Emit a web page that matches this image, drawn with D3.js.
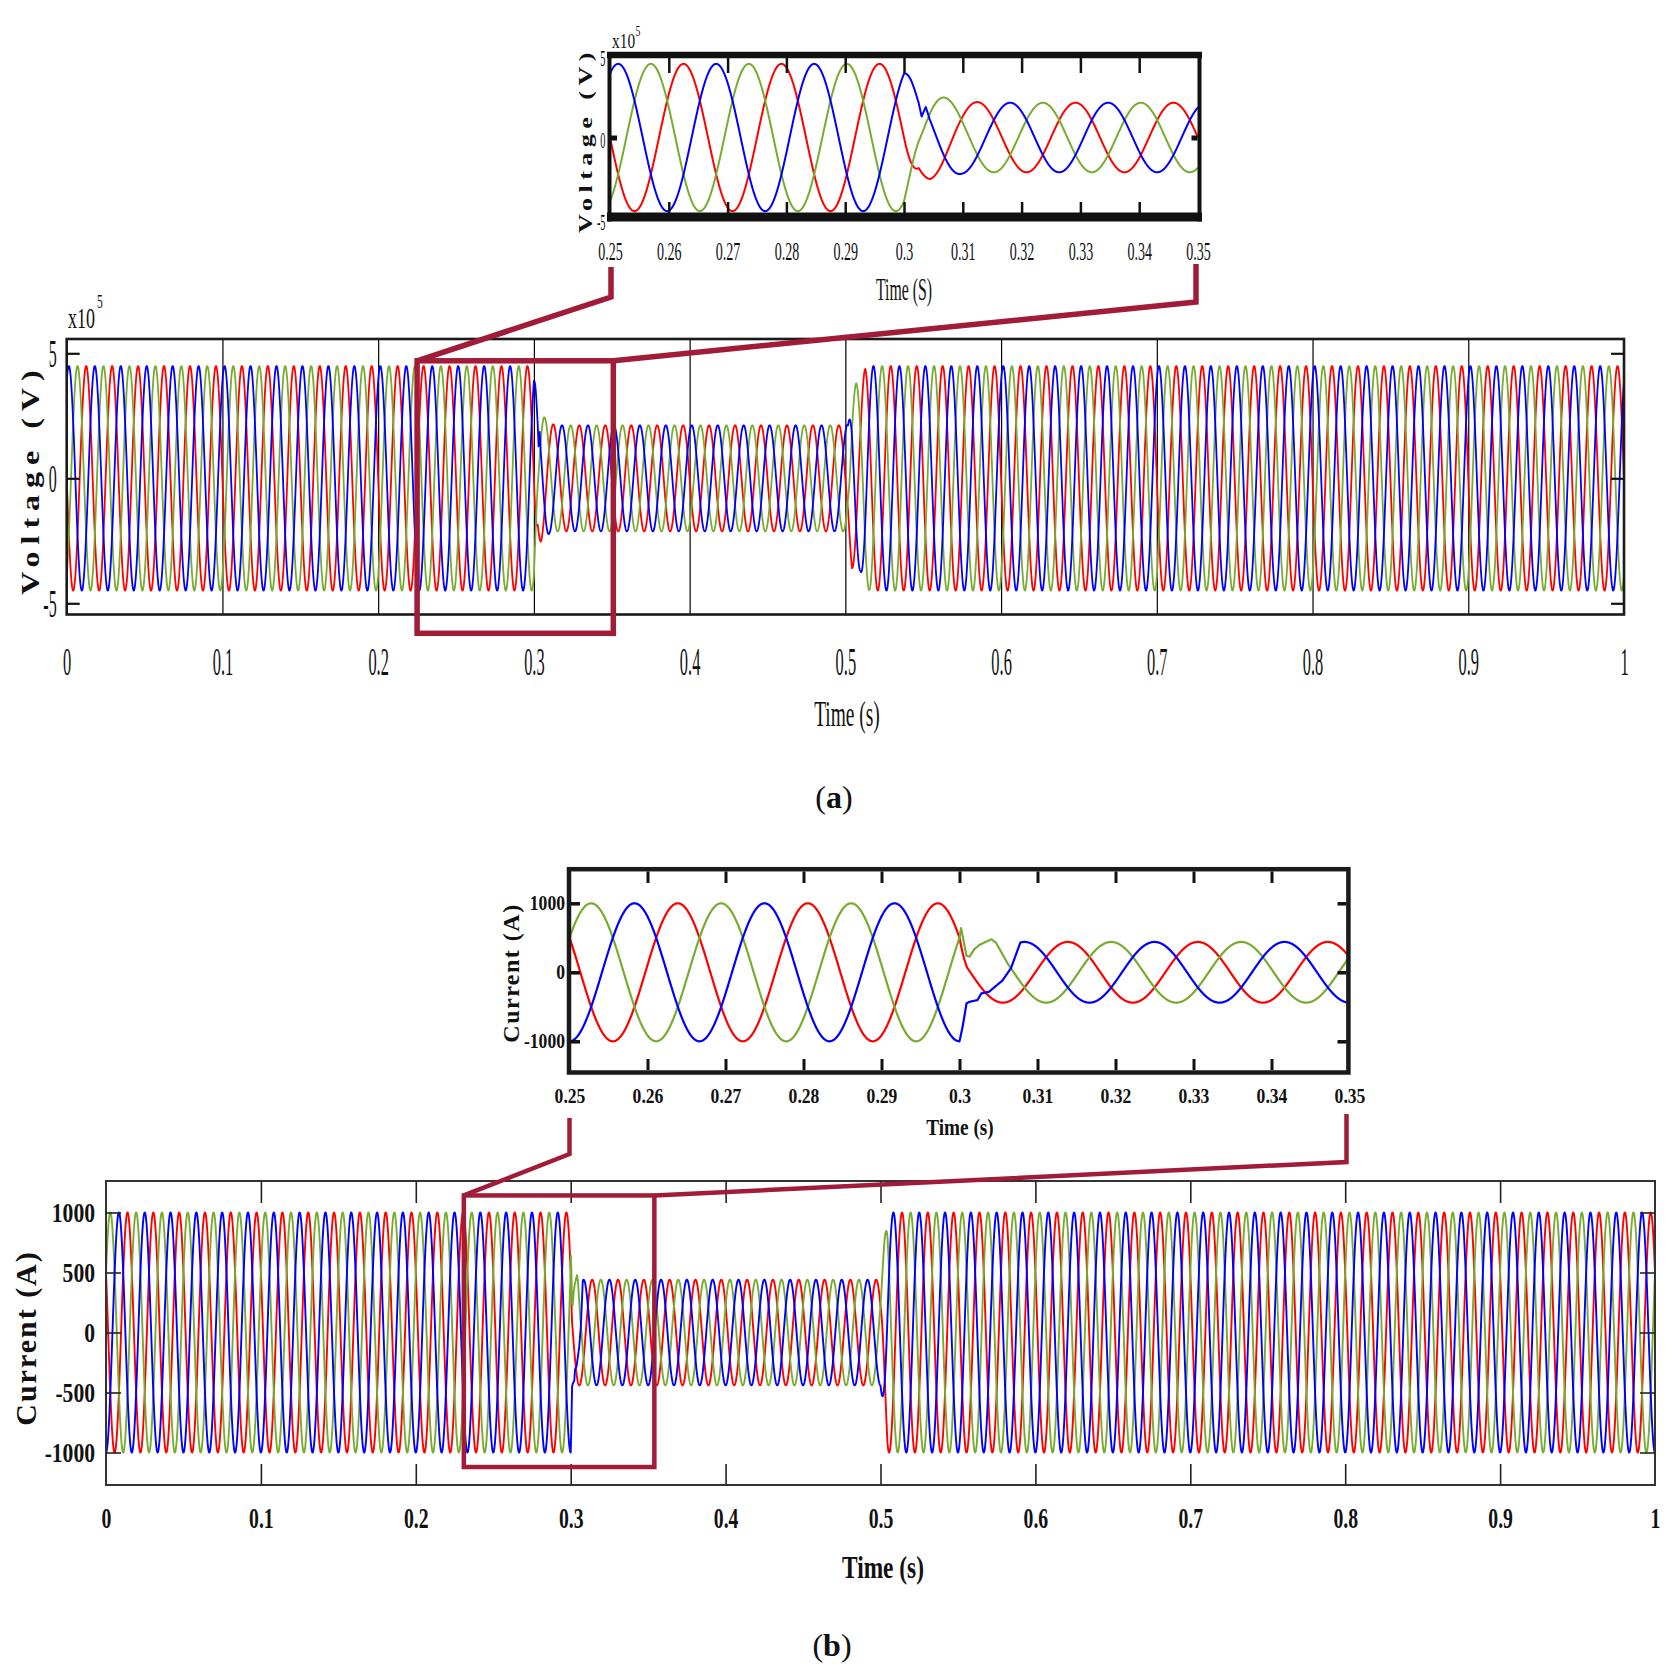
<!DOCTYPE html>
<html>
<head>
<meta charset="utf-8">
<script src="https://cdn.jsdelivr.net/npm/d3@7"></script>
<style>
  body { margin: 0; background: #fff; }
  svg { display: block; }
</style>
</head>
<body>
<script>
// Three-phase voltage (a) and current (b) during a sag between 0.3 s and 0.5 s

// ---- data ----
const timeTicks = [0, 0.1, 0.2, 0.3, 0.4, 0.5, 0.6, 0.7, 0.8, 0.9, 1];
const zoomTicks = [0.25, 0.26, 0.27, 0.28, 0.29, 0.3, 0.31, 0.32, 0.33, 0.34, 0.35];
const voltTicks = [-5, 0, 5];                       // x10^5 V
const currMainTicks = [-1000, -500, 0, 500, 1000];
const currZoomTicks = [-1000, 0, 1000];

const freqHz = 60;
// phase angle of each trace (red, green, blue), degrees
const voltPhaseDeg = [180, -60, 60];
const currPhaseDeg = [150, 30, -90];

// peak amplitude envelope
const voltEnvT = [0, 0.3, 0.3012, 0.3025, 0.3045, 0.306, 0.31, 0.315, 0.5, 0.5018, 0.5043, 0.507, 0.5097, 0.5128, 0.516, 1];
const voltEnvA = [4.49, 4.49, 3.5, 2.3, 2.55, 2.5, 2.2, 2.12, 2.12, 2.15, 3.6, 3.8, 3.7, 4.4, 4.49, 4.49];
const currEnvT = [0, 0.3, 0.3005, 0.301, 0.5, 0.5045, 1];
const currEnvA = [1000, 1000, 720, 440, 440, 1000, 1000];

// fault transients
const voltBlueTrT = [0.3025, 0.303, 0.3037, 0.3043];
const voltBlueTrV = [2.1, 1.28, 1.86, 1.2];
const currGreenTrT = [0.3, 0.3002, 0.3009, 0.3013, 0.3019, 0.3026, 0.3032, 0.3041, 0.3047, 0.3062];
const currGreenTrV = [500, 640, 240, 228, 335, 400, 432, 478, 425, 122];
const currBlueTrT = [0.3, 0.3004, 0.3009, 0.3013, 0.3023, 0.3028, 0.3038, 0.3043, 0.3055, 0.3066, 0.3078];
const currBlueTrV = [-1000, -790, -450, -427, -403, -306, -282, -233, -120, 60, 431];

// zoom boxes (time span, value span)
const voltBoxT = [0.225, 0.351];
const voltBoxV = [-6.2, 4.7];
const currBoxT = [0.231, 0.354];
const currBoxV = [-1121, 1142];

// ---- style ----
const W = 1674, H = 1676;
const SERIF = "'Liberation Serif', 'Times New Roman', serif";
const seriesColors = ['#ff0000', '#77ac30', '#0000ff'];
const boxColor = '#a01c38';
const fmt = d => String(d);

const svg = d3.select('body').append('svg')
  .attr('width', W).attr('height', H)
  .attr('viewBox', `0 0 ${W} ${H}`);

function buildSeries(envT, envA, phases, transients, t0, t1, dt) {
  const env = d3.scaleLinear().domain(envT).range(envA).clamp(true);
  return phases.map((ph, i) => {
    const tr = transients[i];
    const trS = tr ? d3.scaleLinear().domain(tr[0]).range(tr[1]) : null;
    const n = Math.round((t1 - t0) / dt);
    const pts = [];
    for (let k = 0; k <= n; k++) {
      const t = t0 + k * dt;
      let v;
      if (trS && t >= tr[0][0] && t <= tr[0][tr[0].length - 1]) v = trS(t);
      else v = env(t) * Math.sin(2 * Math.PI * freqHz * t + ph * Math.PI / 180);
      pts.push([t, v]);
    }
    return pts;
  });
}

const voltTr = [null, null, [voltBlueTrT, voltBlueTrV]];
const currTr = [null, [currGreenTrT, currGreenTrV], [currBlueTrT, currBlueTrV]];
const voltMain = buildSeries(voltEnvT, voltEnvA, voltPhaseDeg, voltTr, 0, 1, 0.0001);
const voltZoom = buildSeries(voltEnvT, voltEnvA, voltPhaseDeg, voltTr, 0.25, 0.35, 0.00002);
const currMain = buildSeries(currEnvT, currEnvA, currPhaseDeg, currTr, 0, 1, 0.0001);
const currZoom = buildSeries(currEnvT, currEnvA, currPhaseDeg, currTr, 0.25, 0.35, 0.00002);

let clipN = 0;
function plotWaves(g, x, y, series, width, clip) {
  const id = 'clip' + (clipN++);
  svg.append('clipPath').attr('id', id).append('rect')
    .attr('x', clip[0]).attr('y', clip[1]).attr('width', clip[2] - clip[0]).attr('height', clip[3] - clip[1]);
  const line = d3.line().x(d => x(d[0])).y(d => y(d[1]));
  g.append('g').attr('clip-path', `url(#${id})`)
    .selectAll('path').data(series).join('path')
    .attr('d', line).attr('fill', 'none')
    .attr('stroke', (d, i) => seriesColors[i])
    .attr('stroke-width', width).attr('stroke-linejoin', 'round');
}

function txt(g, x, y, s, o) {
  let tf = `translate(${x},${y}) scale(${o.sx || 1},1)`;
  if (o.rot) tf += ` rotate(${o.rot})`;
  return g.append('text').attr('transform', tf)
    .attr('text-anchor', o.anchor || 'middle')
    .attr('font-family', SERIF).attr('font-size', o.size)
    .attr('font-weight', o.bold ? 'bold' : 'normal')
    .attr('letter-spacing', o.ls || 0)
    .attr('dominant-baseline', o.rot ? 'central' : null)
    .attr('fill', '#111').text(s);
}
function caption(g, x, y, letter) {
  const t = txt(g, x, y, '', { size: 32 });
  t.append('tspan').text('(');
  t.append('tspan').attr('font-weight', 'bold').text(letter);
  t.append('tspan').text(')');
}

function tickAxis(g, axis, tx, ty, stroke, width) {
  const a = g.append('g').attr('transform', `translate(${tx},${ty})`).call(axis);
  a.select('.domain').remove();
  a.selectAll('.tick line').attr('stroke', stroke).attr('stroke-width', width);
  return a;
}
function styleX(a, o) {
  a.selectAll('.tick text').attr('y', null).attr('dy', null)
    .attr('transform', `translate(0,${o.off}) scale(${o.sx},1)`)
    .attr('font-size', o.size).attr('font-family', SERIF)
    .attr('font-weight', o.bold ? 'bold' : 'normal').attr('fill', '#111');
}
function styleY(a, o) {
  a.selectAll('.tick text').attr('x', null).attr('dy', o.dy || '0.32em')
    .attr('transform', `translate(${-o.pad},0) scale(${o.sx},1)`)
    .attr('font-size', o.size).attr('font-family', SERIF)
    .attr('font-weight', o.bold ? 'bold' : 'normal').attr('fill', '#111');
}

// ================= (a) voltage =================
const gA = svg.append('g');
const xA = d3.scaleLinear([0, 1], [66.7, 1624]);
const yA = d3.scaleLinear([-5, 5], [603.3, 353.3]);
const aTop = 339, aBot = 614.5;

// grid lines at every 0.1 s
tickAxis(gA, d3.axisBottom(xA).tickValues(timeTicks.slice(1, -1)).tickSize(-(aBot - aTop)).tickFormat(''), 0, aBot, '#000', 1.2);
plotWaves(gA, xA, yA, voltMain, 1.8, [xA(0), aTop, xA(1), aBot]);
gA.append('rect').attr('x', xA(0)).attr('y', aTop).attr('width', xA(1) - xA(0)).attr('height', aBot - aTop)
  .attr('fill', 'none').attr('stroke', '#1a1a1a').attr('stroke-width', 2.6);
const aX = tickAxis(gA, d3.axisBottom(xA).tickValues(timeTicks).tickSize(0).tickFormat(fmt), 0, aBot, '#000', 0);
styleX(aX, { off: 60.5, sx: 0.4, size: 41 });
const aYL = tickAxis(gA, d3.axisLeft(yA).tickValues(voltTicks).tickSize(-13).tickFormat(fmt), xA(0), 0, '#111', 2.2);
styleY(aYL, { pad: 10, sx: 0.4, size: 40 });
tickAxis(gA, d3.axisRight(yA).tickValues(voltTicks).tickSize(-13).tickFormat(''), xA(1), 0, '#111', 2.2);
txt(gA, 68, 328, 'x10', { size: 29, sx: 0.62, anchor: 'start' });
txt(gA, 97, 308, '5', { size: 19, sx: 0.6, anchor: 'start' });
txt(gA, 30, 479, 'Voltage (V)', { size: 32, sx: 0.8, rot: -90, bold: true, ls: 7 });
txt(gA, 847, 726, 'Time (s)', { size: 36, sx: 0.54 });
caption(gA, 834, 808, 'a');

// inset (a)
const xIa = d3.scaleLinear([0.25, 0.35], [610, 1198]);
const yIa = d3.scaleLinear([-5, 5], [219.5, 55.5]);
plotWaves(gA, xIa, yIa, voltZoom, 2, [609, 57, 1199, 215]);
gA.append('line').attr('x1', 607).attr('x2', 1202).attr('y1', 55).attr('y2', 55).attr('stroke', '#111').attr('stroke-width', 6.5);
gA.append('line').attr('x1', 607).attr('x2', 1202).attr('y1', 217).attr('y2', 217).attr('stroke', '#111').attr('stroke-width', 9);
gA.append('line').attr('x1', 609.5).attr('x2', 609.5).attr('y1', 52).attr('y2', 221.5).attr('stroke', '#111').attr('stroke-width', 4);
gA.append('line').attr('x1', 1199.5).attr('x2', 1199.5).attr('y1', 52).attr('y2', 221.5).attr('stroke', '#111').attr('stroke-width', 4);
tickAxis(gA, d3.axisTop(xIa).tickValues(zoomTicks.slice(1, -1)).tickSize(-15).tickFormat(''), 0, 58, '#111', 2.5);
tickAxis(gA, d3.axisBottom(xIa).tickValues(zoomTicks.slice(1, -1)).tickSize(-11).tickFormat(''), 0, 213, '#111', 2.5);
tickAxis(gA, d3.axisLeft(yIa).tickValues([0]).tickSize(-6).tickFormat(''), 611, 0, '#111', 5);
tickAxis(gA, d3.axisRight(yIa).tickValues([0]).tickSize(-6).tickFormat(''), 1197.5, 0, '#111', 5);
const iaX = tickAxis(gA, d3.axisBottom(xIa).tickValues(zoomTicks).tickSize(0).tickFormat(fmt), 0, 213, '#000', 0);
styleX(iaX, { off: 47, sx: 0.54, size: 26 });
const iaY = tickAxis(gA, d3.axisLeft(yIa).tickValues(voltTicks).tickSize(0).tickFormat(fmt), 607, 0, '#000', 0);
styleY(iaY, { pad: 1.5, sx: 0.45, size: 23, dy: '0.45em' });
txt(gA, 612, 48, 'x10', { size: 22, sx: 0.7, anchor: 'start' });
txt(gA, 635.5, 36, '5', { size: 14, sx: 0.7, anchor: 'start' });
txt(gA, 586, 140, 'Voltage (V)', { size: 26, sx: 0.75, rot: -90, bold: true, ls: 5.5 });
txt(gA, 904, 300, 'Time (S)', { size: 31, sx: 0.51 });

// zoom box + connectors (a)
gA.append('rect').attr('x', xA(voltBoxT[0])).attr('y', yA(voltBoxV[1]))
  .attr('width', xA(voltBoxT[1]) - xA(voltBoxT[0])).attr('height', yA(voltBoxV[0]) - yA(voltBoxV[1]))
  .attr('fill', 'none').attr('stroke', boxColor).attr('stroke-width', 5.5);
gA.append('polyline').attr('points', [[xA(voltBoxT[0]), yA(voltBoxV[1])], [xIa(0.25) + 1, 297], [xIa(0.25) + 1, 267]].join(' '))
  .attr('fill', 'none').attr('stroke', boxColor).attr('stroke-width', 5.5);
gA.append('polyline').attr('points', [[xA(voltBoxT[1]), yA(voltBoxV[1])], [xIa(0.35) - 2, 302], [xIa(0.35) - 2, 264]].join(' '))
  .attr('fill', 'none').attr('stroke', boxColor).attr('stroke-width', 5.5);

// ================= (b) current =================
const gB = svg.append('g');
const xB = d3.scaleLinear([0, 1], [106, 1655]);
const yB = d3.scaleLinear([-1000, 1000], [1452.5, 1212.5]);
const bTop = 1181, bBot = 1485;

plotWaves(gB, xB, yB, currMain, 1.9, [xB(0), bTop, xB(1), bBot]);
gB.append('rect').attr('x', xB(0)).attr('y', bTop).attr('width', xB(1) - xB(0)).attr('height', bBot - bTop)
  .attr('fill', 'none').attr('stroke', '#333').attr('stroke-width', 2);
tickAxis(gB, d3.axisTop(xB).tickValues(timeTicks.slice(1, -1)).tickSize(-22).tickFormat(''), 0, bTop, '#222', 1.6);
tickAxis(gB, d3.axisBottom(xB).tickValues(timeTicks.slice(1, -1)).tickSize(-21).tickFormat(''), 0, bBot, '#222', 1.6);
const bYL = tickAxis(gB, d3.axisLeft(yB).tickValues(currMainTicks).tickSize(-15).tickFormat(fmt), xB(0), 0, '#222', 1.6);
styleY(bYL, { pad: 11, sx: 0.8, size: 27, bold: true });
tickAxis(gB, d3.axisRight(yB).tickValues(currMainTicks).tickSize(-15).tickFormat(''), xB(1), 0, '#222', 1.6);
const bX = tickAxis(gB, d3.axisBottom(xB).tickValues(timeTicks).tickSize(0).tickFormat(fmt), 0, bBot, '#000', 0);
styleX(bX, { off: 43, sx: 0.68, size: 29, bold: true });
txt(gB, 26, 1338, 'Current (A)', { size: 30, sx: 0.95, rot: -90, bold: true, ls: 2 });
txt(gB, 883, 1578, 'Time (s)', { size: 32, sx: 0.73, bold: true });
caption(gB, 832, 1656, 'b');

// inset (b)
const xIb = d3.scaleLinear([0.25, 0.35], [569.5, 1349.5]);
const yIb = d3.scaleLinear([-1500, 1500], [1075.8, 868.8]);
plotWaves(gB, xIb, yIb, currZoom, 2.2, [569, 869, 1349, 1073]);
gB.append('rect').attr('x', 569).attr('y', 869.2).attr('width', 779.4).attr('height', 203.3)
  .attr('fill', 'none').attr('stroke', '#1a1a1a').attr('stroke-width', 4.5);
tickAxis(gB, d3.axisTop(xIb).tickValues(zoomTicks.slice(1, -1)).tickSize(-11.5).tickFormat(''), 0, 871.5, '#111', 3);
tickAxis(gB, d3.axisBottom(xIb).tickValues(zoomTicks.slice(1, -1)).tickSize(-11).tickFormat(''), 0, 1070, '#111', 3);
const ibYL = tickAxis(gB, d3.axisLeft(yIb).tickValues(currZoomTicks).tickSize(-9).tickFormat(fmt), 571, 0, '#111', 3.5);
styleY(ibYL, { pad: 6, sx: 0.88, size: 20, bold: true });
tickAxis(gB, d3.axisRight(yIb).tickValues(currZoomTicks).tickSize(-9).tickFormat(''), 1346.5, 0, '#111', 3.5);
const ibX = tickAxis(gB, d3.axisBottom(xIb).tickValues(zoomTicks).tickSize(0).tickFormat(fmt), 0, 1070, '#000', 0);
styleX(ibX, { off: 33, sx: 0.8, size: 22, bold: true });
txt(gB, 511, 973, 'Current (A)', { size: 24, sx: 0.95, rot: -90, bold: true, ls: 1.5 });
txt(gB, 960, 1135, 'Time (s)', { size: 24, sx: 0.8, bold: true });

// zoom box + connectors (b)
gB.append('rect').attr('x', xB(currBoxT[0])).attr('y', yB(currBoxV[1]))
  .attr('width', xB(currBoxT[1]) - xB(currBoxT[0])).attr('height', yB(currBoxV[0]) - yB(currBoxV[1]))
  .attr('fill', 'none').attr('stroke', boxColor).attr('stroke-width', 4.5);
gB.append('polyline').attr('points', [[xB(currBoxT[0]), yB(currBoxV[1])], [xIb(0.25), 1154], [xIb(0.25), 1118]].join(' '))
  .attr('fill', 'none').attr('stroke', boxColor).attr('stroke-width', 4.5);
gB.append('polyline').attr('points', [[xB(currBoxT[1]), yB(currBoxV[1])], [xIb(0.35) - 3, 1162], [xIb(0.35) - 3, 1114]].join(' '))
  .attr('fill', 'none').attr('stroke', boxColor).attr('stroke-width', 4.5);
</script>
</body>
</html>
